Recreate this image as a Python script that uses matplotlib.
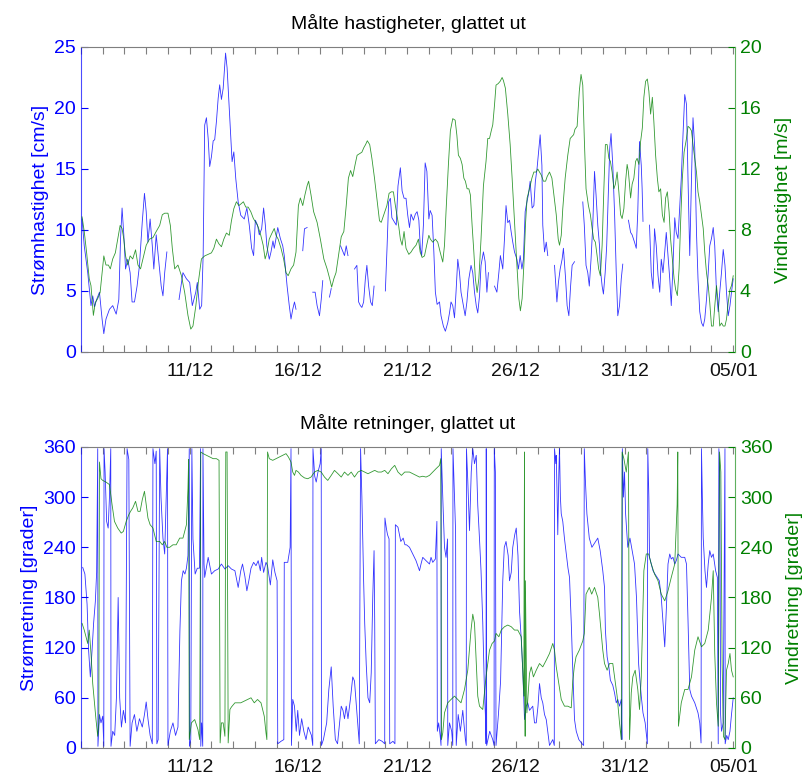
import numpy as np
import matplotlib
matplotlib.use("Agg")
import matplotlib.pyplot as plt
import datetime as dt

plt.rcParams['font.family'] = ['Liberation Sans', 'DejaVu Sans']

NaN = np.nan
start_date = dt.date(2011, 12, 6)

# ---------------- current speed [cm/s] (days since start) ----------------
cur_speed_t = [0.05,0.15,0.31,0.38,0.46,0.54,0.62,0.72,0.85,0.97,1.05,1.15,1.31,1.46,1.62,1.74,1.82,1.89,1.97,2.05,2.15,2.26,2.35,2.46,2.58,2.69,2.82,2.92,3.0,3.08,3.18,3.28,3.35,3.46,3.57,3.69,3.77,3.85,3.95,
               4.2,
               4.51,4.69,4.85,5.0,5.12,5.28,5.35,5.46,5.55,5.62,5.69,5.77,5.85,5.92,6.0,6.08,6.15,6.23,6.31,6.38,6.46,6.54,6.65,6.72,6.85,6.95,7.03,7.12,7.23,
               7.35,7.51,7.63,7.74,7.85,7.94,8.02,8.12,8.2,8.31,8.4,8.48,8.55,8.66,8.74,8.83,8.89,8.97,9.05,9.17,9.28,9.35,9.48,9.58,9.66,9.74,9.82,9.89,
               10.0,
               10.2,10.28,10.4,
               10.5,
               10.66,10.77,10.86,10.97,11.05,11.12,
               11.3,
               11.43,11.51,
               11.7,
               11.94,12.05,12.12,12.2,12.28,
               12.4,
               12.58,12.69,12.77,12.85,12.92,13.0,13.08,13.15,13.23,13.32,13.4,13.48,
               13.7,
               14.0,14.08,14.15,14.23,14.3,14.43,14.5,14.58,14.69,14.77,14.86,
               14.95,15.03,15.11,15.18,15.29,15.38,15.46,15.54,15.61,15.67,15.75,15.83,15.91,16.0,16.06,16.15,16.23,16.3,16.38,16.49,16.56,16.67,16.76,16.87,16.95,17.02,17.1,17.18,17.25,17.33,17.41,17.48,17.56,17.67,17.75,17.84,17.94,18.02,18.1,18.18,18.25,18.33,18.4,18.51,18.59,18.67,18.74,
               18.9,
               19.02,19.13,19.22,19.29,19.4,19.48,19.55,19.63,19.71,19.79,19.86,19.94,20.05,20.12,20.2,20.28,20.35,20.43,20.51,20.58,20.66,20.75,20.83,20.9,20.98,21.06,21.12,21.2,21.24,21.32,21.4,21.47,
               21.6,
               21.78,21.89,21.96,22.04,22.13,22.19,22.29,22.36,22.44,22.52,22.59,22.7,
               22.9,
               23.08,23.15,23.23,23.31,23.38,23.46,23.54,23.62,23.69,23.77,23.85,23.89,23.97,24.03,24.11,24.18,24.26,24.32,24.38,24.46,24.54,24.62,24.69,24.77,24.85,24.92,
               25.05,
               25.18,25.28,25.35,25.46,25.54,25.61,25.69,25.77,25.81,25.85,
               26.0,
               26.15,26.23,26.31,26.38,26.46,26.54,26.62,26.69,26.77,26.85,26.92,27.0,27.08,27.15,27.23,27.31,27.38,27.46,27.54,27.61,27.69,27.77,27.85,27.92,28.0,28.08,28.15,28.23,28.31,28.38,28.46,28.54,28.62,28.69,28.77,28.85,28.92,29.0,29.08,29.15,29.23,29.31,29.38,29.46,29.54,29.62,29.69,29.77,29.85,29.92,30.0]
cur_speed = [10.9,8.7,6.5,5.2,3.8,4.6,3.7,4.3,4.9,2.7,1.5,2.7,3.5,3.8,3.1,4.3,9.3,11.8,9.6,6.8,7.6,6.5,4.1,4.1,5.4,7.1,10.7,13.0,11.5,9.0,10.9,8.7,6.8,9.6,7.6,5.4,4.6,6.5,8.2,
             NaN,
             4.3,6.5,6.0,5.7,3.8,4.9,5.7,3.5,3.8,8.0,18.6,19.2,17.5,15.2,16.0,17.3,17.4,18.9,20.8,21.9,20.7,21.6,24.5,23.3,18.9,15.6,16.4,14.2,12.3,
             11.2,10.9,11.8,10.4,8.5,7.9,10.8,10.4,9.6,10.1,11.8,10.4,8.7,7.6,8.2,9.1,8.5,9.3,10.2,9.3,8.7,7.9,5.4,3.8,2.7,3.5,4.1,3.5,
             NaN,
             8.3,10.1,10.2,
             NaN,
             4.9,4.9,3.8,2.97,4.3,5.85,
             NaN,
             4.5,5.2,
             NaN,
             8.7,8.2,7.9,8.7,7.9,
             NaN,
             6.8,7.1,4.1,3.8,3.65,4.1,6.0,7.1,5.4,4.1,3.8,5.4,
             NaN,
             5.0,8.7,12.3,12.6,11.0,10.6,10.4,13.6,15.1,13.2,12.6,
             12.6,11.2,10.2,11.3,10.8,11.3,11.5,10.8,8.5,7.9,10.4,15.5,14.8,10.9,11.6,11.2,8.2,4.9,3.9,4.1,2.97,2.1,1.7,2.4,3.2,4.1,3.8,2.8,4.9,7.6,6.5,4.9,4.1,2.97,4.1,6.0,7.1,6.5,4.9,3.8,3.2,4.6,7.1,8.2,7.4,4.9,6.5,
             NaN,
             5.4,4.9,6.5,7.9,6.8,9.3,12.0,10.6,10.8,9.8,9.0,8.2,7.6,6.8,7.9,6.8,7.6,11.5,12.3,12.9,14.0,11.8,12.0,14.0,15.1,16.7,17.8,15.3,10.4,8.2,9.0,7.9,
             NaN,
             7.1,4.1,5.7,6.8,7.6,8.5,6.0,3.8,2.97,5.4,7.1,7.4,
             NaN,
             12.3,10.4,7.1,6.5,5.4,7.6,10.4,14.8,12.9,10.4,8.7,6.8,5.4,4.75,6.5,8.7,13.4,16.7,17.9,15.3,11.5,6.5,2.97,3.8,6.0,7.2,
             NaN,
             10.8,9.8,9.6,9.0,8.5,11.5,17.25,15.3,13.4,10.7,
             NaN,
             10.4,6.5,5.2,10.1,8.7,6.3,4.9,7.6,6.5,8.2,9.8,7.9,6.0,3.8,7.1,11.0,9.8,9.3,12.0,14.2,17.8,21.1,20.3,14.2,7.9,14.2,19.2,16.7,9.8,6.0,3.3,2.4,2.1,2.7,4.3,6.5,8.7,9.3,10.2,8.7,4.9,3.3,4.9,6.5,8.4,7.1,4.9,2.97,3.8,4.9,6.0]

# ---------------- wind speed [m/s] ----------------
wind_speed_t = [0.05,0.15,0.26,0.38,0.46,0.57,0.66,0.77,0.88,0.97,1.05,1.15,1.26,1.35,1.46,1.58,1.69,1.8,1.89,1.97,2.05,2.15,2.26,2.38,2.51,2.62,2.74,2.85,3.0,3.15,3.31,3.46,3.62,3.74,3.85,4.0,4.11,4.2,4.31,4.46,4.62,4.77,4.92,5.05,5.15,5.28,5.4,5.54,5.69,5.85,6.0,6.11,6.23,6.34,6.46,6.57,6.69,6.82,6.92,7.03,7.15,7.26,
                7.35,7.47,7.58,7.69,7.81,7.93,8.04,8.15,8.27,8.38,8.47,8.55,8.66,8.77,8.89,8.97,9.07,9.2,9.32,9.43,9.53,9.66,9.78,9.89,10.0,10.09,10.2,10.3,10.4,10.47,10.58,10.7,10.86,11.01,11.17,11.32,11.44,11.53,11.63,11.73,11.84,11.97,12.09,12.2,12.3,12.4,12.5,12.61,12.7,12.81,12.92,13.01,13.09,13.17,13.28,13.38,13.5,13.63,13.73,13.81,13.93,14.07,14.17,14.27,14.37,14.46,14.53,14.61,14.69,14.77,14.86,
                14.95,15.08,15.18,15.29,15.41,15.52,15.6,15.69,15.8,15.9,16.0,16.07,16.18,16.3,16.41,16.52,16.64,16.72,16.79,16.9,16.99,17.1,17.21,17.29,17.36,17.45,17.53,17.61,17.68,17.76,17.84,17.91,17.99,18.07,18.14,18.22,18.3,18.4,18.51,18.63,18.71,18.79,18.87,18.94,19.02,19.09,19.19,19.28,19.37,19.43,19.52,19.63,19.74,19.83,19.94,20.05,20.14,20.21,20.29,20.37,20.45,20.52,20.63,20.74,20.83,20.94,21.01,21.09,21.17,21.27,21.37,21.44,21.55,21.66,21.75,21.86,21.95,22.01,22.09,22.16,22.27,22.39,22.5,
                22.66,22.72,22.82,22.92,23.0,23.08,23.15,23.23,23.34,23.43,23.51,23.58,23.66,23.74,23.81,23.89,23.97,24.05,24.12,24.2,24.28,24.35,24.43,24.51,24.58,24.66,24.74,24.82,24.89,24.97,25.05,25.12,25.18,25.28,25.35,25.43,25.51,25.58,25.66,25.74,25.82,25.89,25.97,26.05,26.12,26.2,26.28,26.35,26.43,26.51,26.58,26.66,26.74,26.82,26.89,26.97,27.05,27.12,27.2,27.28,27.35,27.43,27.51,27.58,27.66,27.74,27.85,27.92,28.0,28.08,28.15,28.23,28.31,28.38,28.46,28.54,28.62,28.69,28.77,28.85,28.92,29.0,29.08,29.15,29.23,29.31,29.38,29.46,29.54,29.62,29.69,29.77,29.85,29.92,30.0]
wind_speed = [8.86,7.9,6.5,4.8,4.35,2.4,3.25,3.5,3.9,5.2,6.3,5.7,5.7,5.45,6.1,6.5,7.4,8.3,8.1,7.4,6.3,5.7,6.3,6.1,6.7,5.7,5.45,6.1,7.0,7.4,7.5,7.9,8.3,9.0,9.1,9.1,8.3,6.8,5.45,5.7,5.0,3.9,2.4,1.5,1.7,3.0,4.6,6.1,6.3,6.4,6.5,6.8,7.4,7.1,6.9,7.4,7.8,7.65,8.6,9.4,9.85,9.6,
              9.7,9.85,9.5,9.5,9.2,8.75,8.5,8.2,7.65,7.0,6.1,6.5,7.4,7.75,8.1,7.65,7.4,6.8,6.1,5.2,5.0,5.45,5.7,6.55,9.6,10.1,9.6,10.3,10.9,11.2,10.3,9.2,8.5,7.4,6.1,5.45,4.8,4.25,4.8,5.2,6.3,7.55,7.9,9.6,11.4,11.9,11.5,12.3,12.9,13.0,13.1,13.4,13.6,13.85,13.6,12.7,11.4,9.85,8.6,8.5,9.0,9.6,10.4,10.5,10.5,9.6,9.0,8.3,7.4,7.0,7.9,
              6.8,6.4,6.55,6.8,7.0,7.4,6.55,6.2,6.3,7.0,7.65,7.4,7.2,7.4,7.2,6.55,5.9,7.0,9.2,12.3,14.5,15.3,15.2,14.2,12.9,12.7,12.3,11.4,11.2,10.7,10.7,10.3,8.3,6.55,4.8,3.9,4.8,7.4,10.9,12.5,14.0,14.0,14.5,14.9,16.2,17.5,17.6,17.75,18.0,17.8,17.3,15.6,13.6,11.4,8.5,5.7,3.5,2.7,3.5,5.7,8.5,10.1,10.7,11.4,11.8,11.8,12.0,11.8,11.6,11.2,11.2,11.5,11.8,11.4,10.3,9.0,7.4,7.0,7.65,9.4,11.4,12.9,14.0,
              14.25,14.6,14.8,17.1,18.2,17.5,14.0,10.7,9.6,9.0,8.1,7.4,7.2,6.3,5.45,5.0,7.0,10.7,13.6,13.6,12.7,12.5,11.8,10.7,11.0,11.8,10.5,9.0,8.75,9.4,11.2,12.3,11.8,10.1,11.0,11.4,12.5,12.7,12.3,13.8,14.7,16.7,17.75,17.9,17.1,15.6,16.7,15.1,12.9,11.4,10.5,10.7,9.0,8.5,10.1,10.5,9.2,7.4,6.1,4.8,4.1,3.7,5.45,8.5,11.4,13.1,14.0,14.8,14.7,14.5,13.6,12.7,11.8,10.5,9.85,9.0,8.1,6.55,5.2,4.35,3.25,1.7,1.7,3.0,4.35,3.25,1.7,1.9,1.7,1.7,2.15,3.25,4.1,4.35,5.0]

# ---------------- current direction [degrees] ----------------
cur_dir_t = [0.08,0.18,0.28,0.35,0.43,0.51,0.58,0.66,0.72,0.77,0.78,0.85,0.92,1.0,1.05,1.06,1.11,1.18,1.25,1.31,1.37,1.38,1.46,1.55,1.63,1.71,1.78,1.86,1.95,2.05,2.12,2.2,2.26,2.35,2.46,2.57,2.69,2.82,2.92,3.0,3.08,3.18,3.28,3.31,3.4,3.46,3.49,3.55,3.62,3.68,3.77,3.85,3.92,3.98,4.0,4.11,4.23,4.35,4.46,4.55,4.62,4.7,4.78,4.85,4.92,4.98,4.99,5.05,5.1,5.15,5.25,5.35,5.45,5.5,5.51,5.55,5.6,5.61,5.66,5.69,5.85,6.0,6.15,6.31,6.46,6.62,6.77,6.92,7.08,7.23,
             7.35,7.43,7.54,7.63,7.72,7.82,7.94,8.05,8.15,8.25,8.31,8.4,8.51,8.58,8.71,8.82,8.92,9.02,9.05,9.2,9.33,9.35,9.51,9.62,9.66,9.68,9.74,9.82,9.9,9.97,10.05,10.15,10.25,10.35,10.45,10.6,10.66,10.67,10.75,10.82,10.9,11.0,11.05,11.06,11.15,11.3,11.4,11.51,11.6,11.7,11.8,11.97,12.05,12.12,12.2,12.28,12.4,12.5,12.58,12.7,12.8,12.86,12.92,13.0,13.05,13.12,13.2,13.28,13.35,13.42,13.48,13.51,13.54,13.7,13.85,13.97,13.98,14.05,14.1,14.17,14.2,14.35,14.44,14.46,14.58,14.71,14.82,14.9,
             14.97,15.11,15.26,15.41,15.57,15.64,15.72,15.87,16.03,16.1,16.18,16.3,16.37,16.39,16.45,16.52,16.56,16.57,16.64,16.72,16.79,16.86,16.87,16.95,17.05,17.1,17.11,17.18,17.23,17.26,17.35,17.45,17.56,17.68,17.72,17.73,17.79,17.87,17.95,18.02,18.1,18.18,18.25,18.33,18.4,18.48,18.56,18.6,18.63,18.64,18.66,18.8,18.94,19.0,19.01,19.06,19.09,19.2,19.3,19.4,19.47,19.55,19.65,19.71,19.79,19.86,19.95,20.02,20.1,20.17,20.25,20.32,20.4,20.48,20.55,20.63,20.78,20.86,20.94,21.02,21.09,21.17,21.24,21.32,21.4,21.55,21.7,21.77,21.78,21.84,21.86,21.9,21.93,21.98,22.01,22.05,22.09,22.16,22.24,22.32,22.4,22.47,22.55,22.62,22.7,22.78,
             22.9,23.05,23.12,23.15,23.2,23.27,23.38,23.5,23.62,23.77,23.88,24.0,24.08,24.12,24.2,24.28,24.35,24.46,24.54,24.62,24.69,24.77,24.85,24.88,24.9,24.95,25.0,25.05,25.15,25.25,25.38,25.46,25.55,25.65,25.77,25.85,25.95,26.05,26.07,26.12,26.15,26.31,26.4,26.5,26.6,26.69,26.77,26.85,26.93,27.0,27.08,27.15,27.23,27.31,27.38,27.46,27.61,27.77,27.85,27.92,28.0,28.08,28.23,28.38,28.46,28.52,28.54,28.58,28.62,28.7,28.77,28.85,28.92,29.0,29.08,29.19,29.27,29.31,29.34,29.38,29.42,29.46,29.54,29.62,29.63,29.7,29.77,29.85,29.92,30.0]
cur_dir = [216,208,172,117,85,117,149,175,210,358,2,40,30,38,2,358,330,271,263,300,358,2,20,15,60,180,60,25,45,30,358,345,2,30,40,20,35,25,40,55,35,15,5,358,340,355,5,10,358,300,251,232,300,358,3,20,30,15,25,140,200,212,208,215,230,358,2,10,358,250,208,215,215,358,2,30,2,358,220,204,228,208,212,214,220,214,218,214,212,192,
           212,220,205,188,200,215,222,218,224,212,228,210,222,218,195,225,210,200,5,8,10,222,222,240,358,3,58,50,20,45,15,35,20,10,25,15,3,358,325,318,330,340,358,3,10,30,70,97,50,10,5,50,45,35,50,35,60,85,80,40,5,358,300,200,149,100,60,54,90,180,236,150,5,10,8,5,275,262,255,250,5,8,5,267,264,247,251,243,
           243,240,232,224,212,220,228,224,220,228,222,226,271,20,30,15,3,358,300,240,228,250,3,30,20,3,358,300,259,3,40,20,45,10,3,358,320,260,330,358,340,350,290,250,212,150,66,40,5,358,3,20,10,3,358,330,3,40,80,200,240,247,230,200,210,240,255,263,230,164,130,93,34,50,54,45,50,30,30,50,77,60,54,40,34,3,10,3,358,340,350,300,255,330,358,300,280,271,250,232,215,204,150,93,34,20,
           10,5,3,358,320,280,251,240,245,251,236,212,192,141,109,97,81,75,66,54,58,50,58,10,358,300,330,280,240,251,232,220,180,100,62,42,30,5,358,300,228,212,208,204,200,180,150,121,170,220,232,226,228,220,224,232,228,228,220,153,70,62,54,42,30,6,358,300,251,212,192,220,236,228,232,212,204,5,358,330,40,20,30,358,5,15,10,20,40,60]

# ---------------- wind direction [degrees] ----------------
wind_dir_t = [0.05,0.15,0.23,0.31,0.38,0.46,0.54,0.62,0.69,0.77,0.82,0.85,0.92,1.0,1.15,1.31,1.43,1.54,1.69,1.85,1.95,2.08,2.2,2.28,2.38,2.51,2.62,2.72,2.82,2.92,3.0,3.08,3.18,3.31,3.46,3.62,3.74,3.85,3.95,4.08,4.23,4.38,4.54,4.69,4.85,4.92,4.95,4.98,5.08,5.23,5.38,5.46,5.51,5.62,5.77,5.92,6.08,6.23,6.35,6.4,6.46,6.54,6.62,6.66,6.72,6.77,6.85,6.92,7.08,7.23,
              7.35,7.51,7.66,7.82,7.97,8.12,8.28,8.43,8.51,8.55,8.58,8.66,8.82,8.97,9.12,9.28,9.43,9.54,9.66,9.74,9.82,9.89,10.0,10.12,10.28,10.43,10.58,10.74,10.89,11.05,11.2,11.35,11.51,11.66,11.82,11.97,12.12,12.28,12.43,12.58,12.74,12.89,13.05,13.2,13.35,13.51,13.66,13.82,13.97,14.12,14.28,14.43,14.58,14.74,14.89,
              15.11,15.26,15.41,15.57,15.72,15.87,16.03,16.18,16.33,16.49,16.55,16.58,16.64,16.72,16.87,17.02,17.18,17.33,17.48,17.64,17.79,17.94,18.02,18.1,18.18,18.25,18.33,18.48,18.63,18.79,18.91,19.02,19.09,19.22,19.33,19.48,19.63,19.79,19.94,20.09,20.25,20.32,20.37,20.38,20.4,20.41,20.43,20.44,20.51,20.63,20.71,20.81,20.94,21.09,21.24,21.4,21.55,21.7,21.78,21.86,21.98,22.09,22.24,22.39,22.55,
              22.62,22.69,22.77,22.92,23.08,23.15,23.23,23.38,23.49,23.62,23.77,23.85,24.0,24.08,24.2,24.31,24.46,24.54,24.66,24.77,24.85,24.89,24.97,25.08,25.18,25.23,25.31,25.38,25.49,25.61,25.69,25.77,25.89,26.0,26.11,26.23,26.38,26.54,26.69,26.85,27.0,27.15,27.31,27.42,27.45,27.48,27.61,27.77,27.92,28.08,28.23,28.38,28.54,28.69,28.85,29.0,29.08,29.15,29.23,29.31,29.37,29.43,29.49,29.55,29.62,29.66,29.69,29.77,29.85,29.92,30.0]
wind_dir = [149,141,133,125,141,113,77,54,34,14,30,342,322,320,318,315,291,271,263,257,259,271,279,283,287,295,283,283,297,307,291,275,267,263,247,247,243,247,240,240,243,243,251,251,267,310,345,10,30,34,22,10,354,352,350,348,346,346,344,6,30,30,14,354,354,6,46,49,54,54,
            54,56,58,60,54,58,54,38,18,10,354,346,344,346,348,350,352,348,342,330,326,332,330,326,323,322,324,330,332,330,324,320,326,332,328,324,330,326,330,324,330,332,330,328,330,332,330,330,332,328,334,338,330,326,330,
            330,328,326,324,325,324,326,330,334,338,346,10,18,42,54,58,62,58,54,70,93,141,160,149,101,62,50,46,85,117,125,128,137,133,141,145,147,145,141,141,133,93,62,200,354,100,14,200,42,89,97,85,93,101,97,105,113,125,117,97,77,58,50,50,48,
            80,97,109,117,128,137,184,192,184,192,180,160,117,101,93,101,101,85,62,30,10,354,346,330,354,10,66,85,93,70,46,85,212,232,232,220,208,200,184,176,188,204,220,291,354,26,54,70,70,85,117,133,121,125,141,180,212,113,54,26,354,330,100,14,10,60,93,101,113,93,85]

BLUE = '#0000FF'
GREEN = '#008000'
SPINE = '#7f7f7f'

def date_labels(n_days):
    ticks = list(range(0, n_days + 1))
    labels = []
    for d in ticks:
        if d % 5 == 0 and d > 0:
            labels.append((start_date + dt.timedelta(days=d)).strftime('%d/%m'))
        else:
            labels.append('')
    return ticks, labels

fig = plt.figure(figsize=(8.05, 7.78), dpi=100)
ax_pos = [0.1006, 0.5476, 0.8124, 0.392]
ax2_pos = [0.1006, 0.0386, 0.8124, 0.3869]
xlim = (0.0, 30.08)
FS = 14

def style_axes(axL, axR, left_ticks, right_ticks, left_lim, right_lim, left_label, right_label, title, xpad):
    ticks, labels = date_labels(30)
    axL.set_xlim(*xlim)
    axL.set_xticks(ticks)
    axL.set_xticklabels(labels, fontsize=FS, color='#111111')
    axL.tick_params(axis='x', direction='in', length=5, top=True, bottom=True, color=SPINE, pad=xpad)
    axL.set_ylim(*left_lim)
    axL.set_yticks(left_ticks)
    axL.tick_params(axis='y', direction='in', length=5, colors=BLUE, labelsize=FS, right=False)
    axL.set_ylabel(left_label, color=BLUE, fontsize=FS)
    axL.spines['left'].set_color(BLUE)
    axL.spines['left'].set_alpha(0.7)
    for s in ['top', 'bottom']:
        axL.spines[s].set_color(SPINE)
    axL.spines['right'].set_visible(False)
    axL.set_title(title, fontsize=FS, pad=13)

    axR.set_xlim(*xlim)
    axR.set_ylim(*right_lim)
    axR.set_yticks(right_ticks)
    axR.tick_params(axis='y', direction='in', length=5, colors=GREEN, labelsize=FS)
    axR.tick_params(axis='x', which='both', top=False, bottom=False, labelbottom=False)
    axR.set_ylabel(right_label, color=GREEN, fontsize=FS, rotation=90, labelpad=10)
    axR.spines['right'].set_color('#5fb05f')
    for s in ['top', 'bottom', 'left']:
        axR.spines[s].set_visible(False)

# ---- top panel ----
ax1 = fig.add_axes(ax_pos)
ax1r = ax1.twinx()
ax1.plot(cur_speed_t, cur_speed, color=BLUE, lw=0.6, alpha=0.8)
ax1r.plot(wind_speed_t, wind_speed, color=GREEN, lw=0.6, alpha=0.8)
style_axes(ax1, ax1r, [0, 5, 10, 15, 20, 25], [0, 4, 8, 12, 16, 20], (0, 25), (0, 20),
           'Strømhastighet [cm/s]', 'Vindhastighet [m/s]', 'Målte hastigheter, glattet ut', 8)

# ---- bottom panel ----
ax2 = fig.add_axes(ax2_pos)
ax2r = ax2.twinx()
ax2.plot(cur_dir_t, cur_dir, color=BLUE, lw=0.6, alpha=0.8)
ax2r.plot(wind_dir_t, wind_dir, color=GREEN, lw=0.6, alpha=0.8)
style_axes(ax2, ax2r, list(range(0, 361, 60)), list(range(0, 361, 60)), (0, 360), (0, 360),
           'Strømretning [grader]', 'Vindretning [grader]', 'Målte retninger, glattet ut', 8)

fig.savefig('out.png', dpi=100)
